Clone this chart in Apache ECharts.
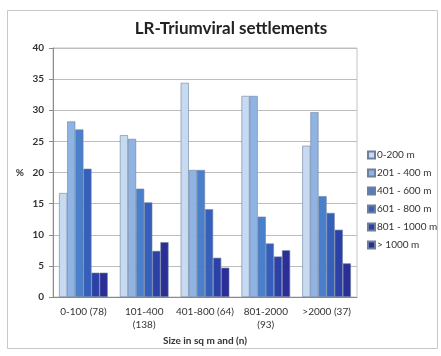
<!DOCTYPE html>
<html>
<head>
<meta charset="utf-8">
<script src="https://cdn.jsdelivr.net/npm/echarts@6/dist/echarts.min.js"></script>
<style>
  html, body { margin: 0; padding: 0; background: #ffffff; }
  #chart { width: 441px; height: 356px; }
</style>
</head>
<body>
<div id="chart"></div>
<script>
// Settlement size classes (sq m) with sample size n
const categories = ['0-100 (78)', '101-400\n(138)', '401-800 (64)', '801-2000\n(93)', '>2000 (37)'];

// Distance bands and share (%) of settlements in each size class
const seriesNames = ['0-200 m', '201 - 400 m', '401 - 600 m', '601 - 800 m', '801 - 1000 m', '> 1000 m'];
const band0to200    = [16.7, 26.0, 34.4, 32.3, 24.3];
const band201to400  = [28.2, 25.4, 20.4, 32.3, 29.7];
const band401to600  = [26.9, 17.4, 20.4, 12.9, 16.2];
const band601to800  = [20.6, 15.2, 14.1,  8.6, 13.5];
const band801to1000 = [ 3.9,  7.4,  6.3,  6.5, 10.8];
const bandOver1000  = [ 3.9,  8.8,  4.7,  7.5,  5.4];

const yTicks = { min: 0, max: 40, interval: 5 };

const bandValues = [band0to200, band201to400, band401to600, band601to800, band801to1000, bandOver1000];
const colors = ['#c6daf2', '#8fb4e3', '#4a7fcc', '#355fbc', '#2b41a8', '#2a2e96'];

const font = 'Lato, "Open Sans", sans-serif';

const chart = echarts.init(document.getElementById('chart'), null, { renderer: 'canvas' });

chart.setOption({
  backgroundColor: '#ffffff',
  animation: false,
  graphic: [{
    type: 'rect',
    shape: { x: 7.5, y: 10.5, width: 430, height: 338 },
    style: { fill: 'none', stroke: '#c8c8c8', lineWidth: 1 },
    silent: true, z: -1
  }],
  title: {
    text: 'LR-Triumviral settlements',
    left: 226, top: 15, textAlign: 'center',
    textStyle: { fontFamily: font, fontWeight: 'bold', fontSize: 17, color: '#222' }
  },
  legend: {
    orient: 'vertical',
    left: 362, top: 145,
    itemWidth: 7, itemHeight: 7, itemGap: 8,
    icon: 'rect',
    textStyle: { fontFamily: font, fontSize: 10, color: '#333', padding: [0, 0, 0, -3] },
    data: seriesNames
  },
  grid: {
    left: 53, right: 84, top: 48, bottom: 59,
    show: true, borderColor: '#c4c4c4', borderWidth: 1, backgroundColor: 'transparent'
  },
  xAxis: {
    type: 'category',
    data: categories,
    name: 'Size in sq m and (n)',
    nameLocation: 'middle',
    nameGap: 36,
    nameTextStyle: { fontFamily: font, fontWeight: 'bold', fontSize: 10, color: '#333' },
    axisLine: { lineStyle: { color: '#8a8a8a' } },
    axisTick: { show: false },
    axisLabel: { fontFamily: font, fontSize: 10, color: '#333', interval: 0, margin: 8, lineHeight: 13 },
    splitLine: { show: false }
  },
  yAxis: {
    type: 'value',
    min: yTicks.min, max: yTicks.max, interval: yTicks.interval,
    name: '%',
    nameLocation: 'middle',
    nameGap: 29,
    nameRotate: 0,
    nameTextStyle: { fontFamily: font, fontWeight: 'bold', fontSize: 10, color: '#333' },
    axisLine: { show: true, lineStyle: { color: '#8a8a8a' } },
    axisTick: { show: true, length: 4, lineStyle: { color: '#8a8a8a' } },
    axisLabel: { fontFamily: font, fontSize: 10, color: '#333', fontWeight: 'bold', margin: 9 },
    splitLine: { lineStyle: { color: '#bdbdbd', width: 1 } }
  },
  series: bandValues.map((vals, i) => ({
    name: seriesNames[i],
    type: 'bar',
    data: vals,
    barGap: '0%',
    barCategoryGap: '20%',
    itemStyle: { color: colors[i], borderColor: '#6e7f9c', borderWidth: 0.6 }
  }))
});
</script>
</body>
</html>
